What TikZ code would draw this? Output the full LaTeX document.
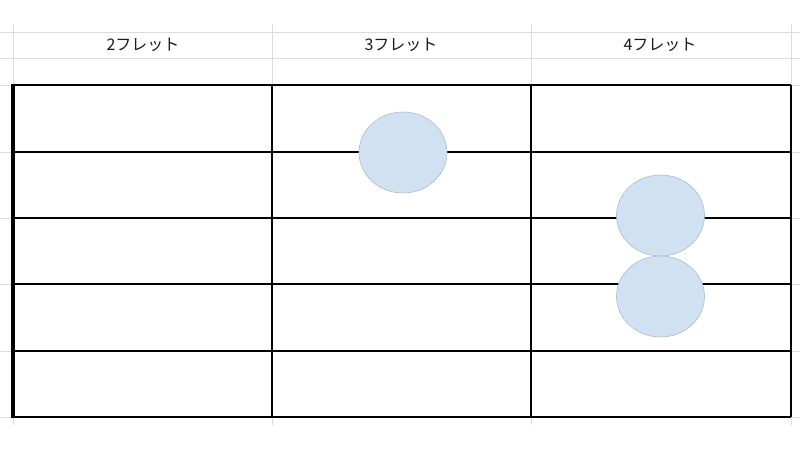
\documentclass[tikz,border=0pt]{standalone}
\usepackage{fontspec}
\usetikzlibrary{shapes.geometric}
\newfontfamily\jpfont{Noto Sans CJK JP}
\definecolor{gridgray}{HTML}{DCDCDC}
\definecolor{dotfill}{HTML}{D0E1F1}
\definecolor{dotdraw}{HTML}{AEBCCB}
\begin{document}
\begin{tikzpicture}[x=1pt,y=-1pt,
  gridline/.style={draw=gridgray,line width=1pt},
  tabline/.style={draw=black,line width=1.4pt},
  header/.style={font=\jpfont\fontsize{16}{18}\selectfont,text=black!90,inner sep=0pt},
  fingerdot/.style={ellipse,fill=dotfill,draw=dotdraw,line width=0.6pt,minimum width=88pt,minimum height=81pt,inner sep=0pt}]
\useasboundingbox (0,0) rectangle (800,450);
% spreadsheet grid
\foreach \yy in {32,58,85,152,218,284,351,417} \draw[gridline] (0,\yy) -- (800,\yy);
\foreach \xx in {13,272,531,791} \draw[gridline] (\xx,24) -- (\xx,425);
% headers
\node[header] (h2) at (143,45) {2フレット};
\node[header] (h3) at (401,45) {3フレット};
\node[header] (h4) at (660,45) {4フレット};
% table
\foreach \yy in {85,152,218,284,351,417} \draw[tabline] (13,\yy) -- (791,\yy);
\foreach \xx in {272,531,791} \draw[tabline] (\xx,85) -- (\xx,417);
\draw[draw=black,line width=3.5pt] (13,84.3) -- (13,417.7);
% finger positions
\node[fingerdot] (d1) at (403,152.5) {};
\node[fingerdot] (d2) at (660.5,215.5) {};
\node[fingerdot] (d3) at (660.5,296.5) {};
\end{tikzpicture}
\end{document}
